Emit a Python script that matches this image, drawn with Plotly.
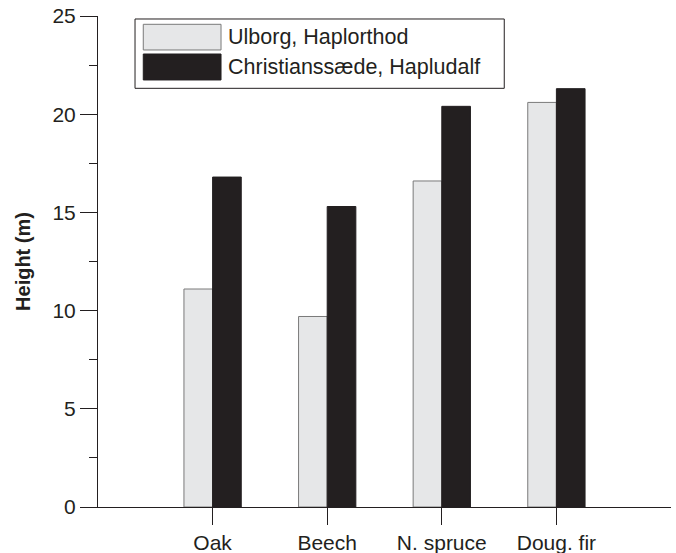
import plotly.graph_objects as go

categories = ["Oak", "Beech", "N. spruce", "Doug. fir"]
ulborg = [11.1, 9.7, 16.6, 20.6]
christianssaede = [16.8, 15.3, 20.4, 21.3]
series_names = ["Ulborg, Haplorthod", "Christianssæde, Hapludalf"]
y_ticks = [0, 5, 10, 15, 20, 25]

LIGHT = "#e6e7e8"
DARK = "#231f20"
LIGHT_LINE = "#7a7a7a"
FONT = "Liberation Sans, Arial, sans-serif"
FS = 21

fig = go.Figure()
fig.add_trace(go.Bar(x=categories, y=ulborg, name=series_names[0],
                     marker=dict(color=LIGHT, line=dict(color=LIGHT_LINE, width=1))))
fig.add_trace(go.Bar(x=categories, y=christianssaede, name=series_names[1],
                     marker=dict(color=DARK, line=dict(color=DARK, width=1))))

fig.update_layout(
    width=676, height=553,
    margin=dict(l=98, r=5, t=16, b=46),
    paper_bgcolor="white", plot_bgcolor="white",
    barmode="group", bargap=0.5, bargroupgap=0,
    showlegend=False,
    font=dict(family=FONT, size=FS, color=DARK),
)
fig.update_xaxes(
    type="category", range=[-1, 4], showgrid=False, automargin=False,
    showline=True, linecolor=DARK, linewidth=1,
    ticks="outside", ticklen=17, tickcolor=DARK, tickwidth=1,
    tickfont=dict(size=FS, color=DARK),
)
fig.update_yaxes(
    range=[0, 25], tickvals=y_ticks, showgrid=False, zeroline=False, automargin=False,
    showline=True, linecolor=DARK, linewidth=1,
    ticks="outside", ticklen=17, tickcolor=DARK, tickwidth=1,
    tickfont=dict(size=FS, color=DARK),
    minor=dict(dtick=2.5, ticks="outside", ticklen=8, tickcolor=DARK, tickwidth=1, showgrid=False),
    title=dict(text="<b>Height (m)</b>", font=dict(size=20, color=DARK), standoff=16),
)

# custom legend box
fig.add_shape(type="rect", xref="paper", yref="paper", x0=0.0646, x1=0.709, y0=0.8527, y1=0.9939,
              line=dict(color=DARK, width=1), fillcolor="white")
fig.add_shape(type="rect", xref="paper", yref="paper", x0=0.0790, x1=0.2147, y0=0.9308, y1=0.9831,
              line=dict(color=LIGHT_LINE, width=1), fillcolor=LIGHT)
fig.add_shape(type="rect", xref="paper", yref="paper", x0=0.0790, x1=0.2147, y0=0.8697, y1=0.9226,
              line=dict(color=DARK, width=1), fillcolor=DARK)
fig.add_annotation(xref="paper", yref="paper", x=0.2229, y=0.9568, text=series_names[0],
                   showarrow=False, xanchor="left", yanchor="middle", font=dict(size=21.5, color=DARK))
fig.add_annotation(xref="paper", yref="paper", x=0.2229, y=0.8961, text=series_names[1],
                   showarrow=False, xanchor="left", yanchor="middle", font=dict(size=21.5, color=DARK))

fig.write_html("out.html", config={"displayModeBar": False},
               post_script="document.body.style.margin='0px';")
